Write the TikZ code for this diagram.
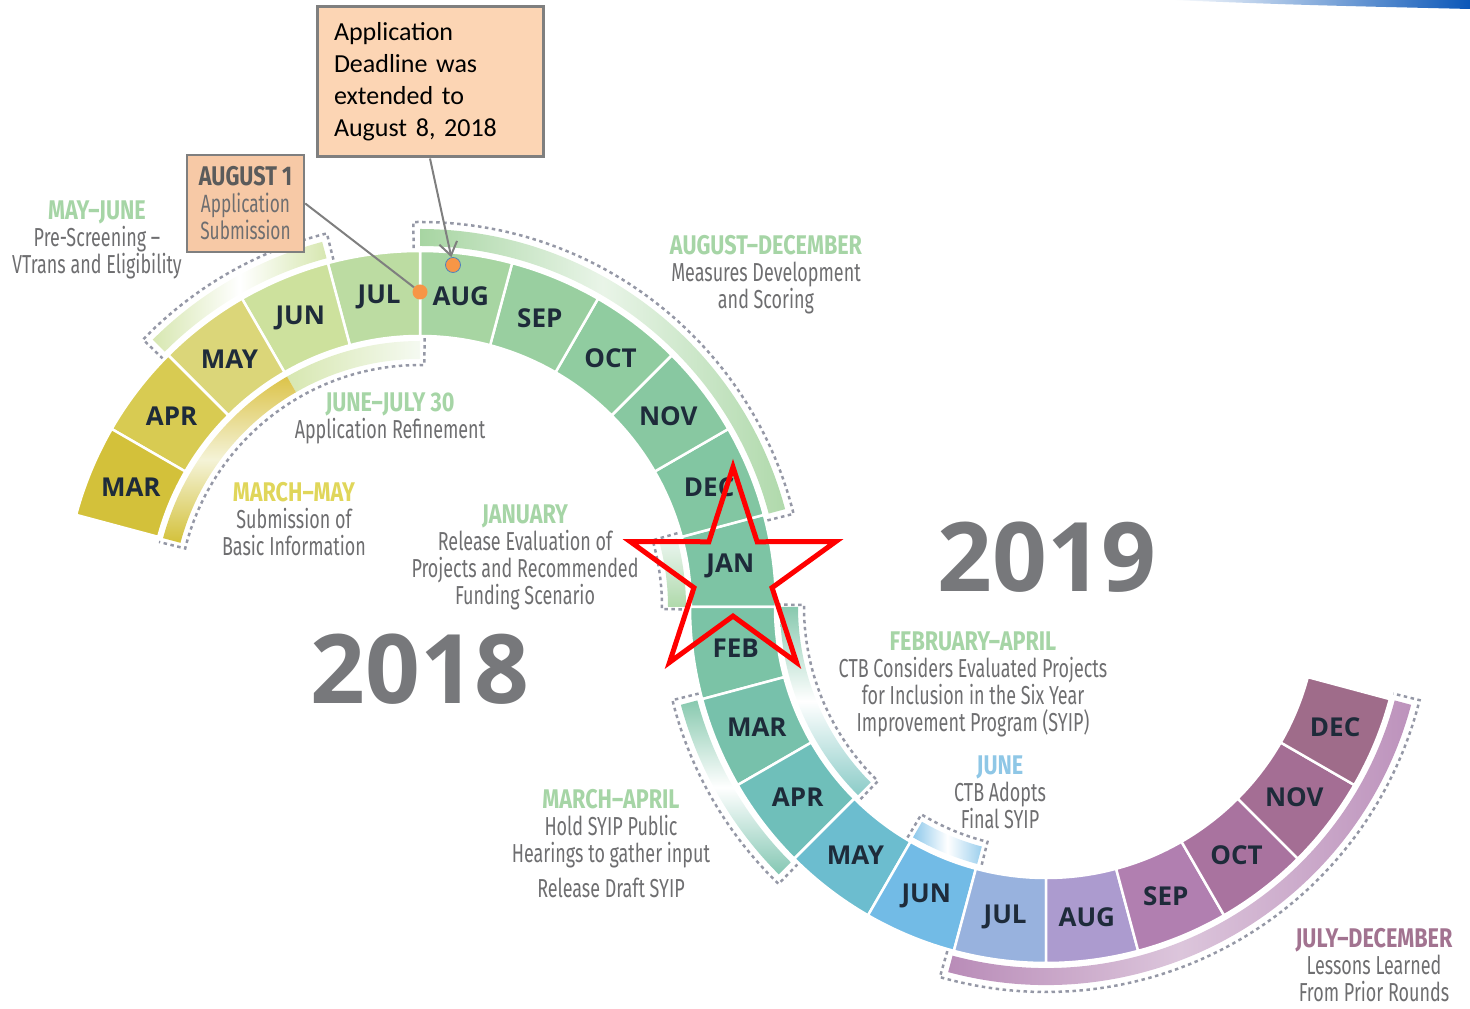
\documentclass[tikz,border=0pt]{standalone}
\usepackage{fontspec}
\usepackage{xcolor}
\usetikzlibrary{arrows.meta,shapes.geometric}

\setmainfont{Fira Sans}
\newfontfamily\condfont{Fira Sans}[FakeStretch=0.69]
\newfontfamily\headfont{Fira Sans}[FakeStretch=0.8]
\newfontfamily\monthfont{Open Sans}
\newfontfamily\boxfont{Carlito}
\newcommand{\headtext}{\headfont\bfseries\fontsize{27}{27}\selectfont}

\definecolor{monthtext}{HTML}{1E2B3A}
\definecolor{descgray}{HTML}{6E6E70}
\definecolor{yeargray}{HTML}{77787B}
\definecolor{dashgray}{HTML}{9598A6}
\definecolor{uMar}{HTML}{D3C13A}
\definecolor{uApr}{HTML}{D8CB52}
\definecolor{uMay}{HTML}{DBD679}
\definecolor{uJun}{HTML}{CDE19D}
\definecolor{uJul}{HTML}{BCDCA2}
\definecolor{uAug}{HTML}{A7D5A2}
\definecolor{uSep}{HTML}{99CFA0}
\definecolor{uOct}{HTML}{90CCA0}
\definecolor{uNov}{HTML}{88C8A1}
\definecolor{uDec}{HTML}{82C6A2}
\definecolor{uJan}{HTML}{7DC4A4}
\definecolor{lFeb}{HTML}{7BC3A6}
\definecolor{lMar}{HTML}{77C1AB}
\definecolor{lApr}{HTML}{6FBFBA}
\definecolor{lMay}{HTML}{6CBDCF}
\definecolor{lJun}{HTML}{72BBE6}
\definecolor{lJul}{HTML}{98B2DE}
\definecolor{lAug}{HTML}{AC9BCF}
\definecolor{lSep}{HTML}{B17FB0}
\definecolor{lOct}{HTML}{A9739F}
\definecolor{lNov}{HTML}{A46E94}
\definecolor{lDec}{HTML}{9F6C8A}
\definecolor{hGreen}{HTML}{A6D5A6}
\definecolor{hYellow}{HTML}{E0D65A}
\definecolor{hBlue}{HTML}{8FC7E6}
\definecolor{hMauve}{HTML}{A27390}
\definecolor{peach}{HTML}{FCD5B4}
\definecolor{peachdark}{HTML}{F7C9A6}
\definecolor{boxgray}{HTML}{7F7F7F}
\definecolor{augtext}{HTML}{5B5B5B}
\definecolor{dotorange}{HTML}{F79646}
\definecolor{dotblue}{HTML}{4F81BD}
\definecolor{swoosh}{HTML}{0B57B8}

\begin{document}
\begin{tikzpicture}[x=1pt, y=1pt,
	month/.style={font=\monthfont\bfseries\fontsize{26}{26}\selectfont, text=monthtext},
	phase/.style={font=\condfont\fontsize{26}{27}\selectfont, text=descgray, align=center, inner sep=0pt},
	band/.style={draw=dashgray, line width=2.5pt, dash pattern=on 3.5pt off 3.5pt},
	segment/.style={draw=white, line width=2.5pt},
	year/.style={font=\monthfont\bfseries\fontsize{96}{96}\selectfont, text=yeargray}]
	\useasboundingbox (0,0) rectangle (1470,1009);

	\shade[left color=white, right color=swoosh] (1170,1009) .. controls (1300,1004) .. (1470,1000) -- (1470,1009) -- cycle;

	\begin{scope}[shift={(420,402)}]
		\shade[left color=uJun!80, right color=uJun!80, middle color=white] (105:361) arc[start angle=105, end angle=135, radius=361] -- (135:378) arc[start angle=135, end angle=105, radius=378] -- cycle;
		\draw[band] (104:358) -- (104:385) arc[start angle=104, end angle=136, radius=385] -- (136:358);
		\shade[left color=uAug, right color=uAug!90, middle color=uAug!25] (15:361) arc[start angle=15, end angle=90, radius=361] -- (90:378) arc[start angle=90, end angle=15, radius=378] -- cycle;
		\draw[band] (14:358) -- (14:385) arc[start angle=14, end angle=91, radius=385] -- (91:358);
		\shade[left color=uJun!80, right color=uJul!15] (90:248) arc[start angle=90, end angle=120, radius=248] -- (120:266) arc[start angle=120, end angle=90, radius=266] -- cycle;
		\shade[bottom color=uMar, top color=uApr!90!orange, middle color=uMay!30] (120:248) arc[start angle=120, end angle=165, radius=248] -- (165:266) arc[start angle=165, end angle=120, radius=266] -- cycle;
		\draw[band] (89:269) -- (89:242) arc[start angle=89, end angle=166, radius=242] -- (166:269);
		\shade[bottom color=uAug!90, top color=uJan!15] (0:248) arc[start angle=0, end angle=15, radius=248] -- (15:266) arc[start angle=15, end angle=0, radius=266] -- cycle;
		\draw[band] (-0.5:269) -- (-0.5:242) arc[start angle=-0.5, end angle=16, radius=242] -- (16:269);

		\foreach \m/\col [count=\k from 0] in {JAN/uJan, DEC/uDec, NOV/uNov, OCT/uOct, SEP/uSep, AUG/uAug, JUL/uJul, JUN/uJun, MAY/uMay, APR/uApr, MAR/uMar} {
			\pgfmathsetmacro{\a}{15*\k}
			\pgfmathsetmacro{\b}{15*\k+15}
			\pgfmathsetmacro{\h}{15*\k+7.5}
			\filldraw[segment, fill=\col] (\a:271) arc[start angle=\a, end angle=\b, radius=271] -- (\b:356) arc[start angle=\b, end angle=\a, radius=356] -- cycle;
			\node[month] (u\m) at (\h:313) {\m};
		}
	\end{scope}

	\begin{scope}[shift={(1046,402)}]
		\shade[top color=lFeb!90, bottom color=lApr!80, middle color=white] (180:248) arc[start angle=180, end angle=225, radius=248] -- (225:266) arc[start angle=225, end angle=180, radius=266] -- cycle;
		\draw[band] (179.5:269) -- (179.5:242) arc[start angle=179.5, end angle=226, radius=242] -- (226:269);
		\shade[left color=lJun!80, right color=lJun!70, middle color=white] (240:248) arc[start angle=240, end angle=255, radius=248] -- (255:266) arc[start angle=255, end angle=240, radius=266] -- cycle;
		\draw[band] (239:269) -- (239:242) arc[start angle=239, end angle=256, radius=242] -- (256:269);
		\shade[top color=lFeb!90, bottom color=lMar!90, middle color=white] (195:361) arc[start angle=195, end angle=225, radius=361] -- (225:378) arc[start angle=225, end angle=195, radius=378] -- cycle;
		\draw[band] (194:358) -- (194:385) arc[start angle=194, end angle=226, radius=385] -- (226:358);
		\shade[left color=lSep!90, right color=lSep!85, middle color=lSep!45] (255:361) arc[start angle=255, end angle=345, radius=361] -- (345:378) arc[start angle=345, end angle=255, radius=378] -- cycle;
		\draw[band] (254:358) -- (254:385) arc[start angle=254, end angle=346, radius=385] -- (346:358);

		\foreach \m/\col [count=\k from 0] in {FEB/lFeb, MAR/lMar, APR/lApr, MAY/lMay, JUN/lJun, JUL/lJul, AUG/lAug, SEP/lSep, OCT/lOct, NOV/lNov, DEC/lDec} {
			\pgfmathsetmacro{\a}{180+15*\k}
			\pgfmathsetmacro{\b}{195+15*\k}
			\pgfmathsetmacro{\h}{187.5+15*\k}
			\filldraw[segment, fill=\col] (\a:271) arc[start angle=\a, end angle=\b, radius=271] -- (\b:356) arc[start angle=\b, end angle=\a, radius=356] -- cycle;
			\node[month] (l\m) at (\h:313) {\m};
		}
	\end{scope}

	\node[phase] (mayjune) at (97,769) {\textcolor{hGreen}{\headtext MAY–JUNE}\\Pre-Screening –\\VTrans and Eligibility};
	\node[phase] (augdec) at (766,734) {\textcolor{hGreen}{\headtext AUGUST–DECEMBER}\\Measures Development\\and Scoring};
	\node[phase] (junjul) at (390,591) {\textcolor{hGreen}{\headtext JUNE–JULY 30}\\Application Refinement};
	\node[phase] (marmay) at (294,490) {\textcolor{hYellow}{\headtext MARCH–MAY}\\Submission of\\Basic Information};
	\node[phase] (january) at (525,452) {\textcolor{hGreen}{\headtext JANUARY}\\Release Evaluation of\\Projects and Recommended\\Funding Scenario};
	\node[phase] (febapr) at (973,325) {\textcolor{hGreen}{\headtext FEBRUARY–APRIL}\\CTB Considers Evaluated Projects\\for Inclusion in the Six Year\\Improvement Program (SYIP)};
	\node[phase] (june) at (1000,217) {\textcolor{hBlue}{\headtext JUNE}\\CTB Adopts\\Final SYIP};
	\node[phase] (marapr) at (611,165) {\textcolor{hGreen}{\headtext MARCH–APRIL}\\Hold SYIP Public\\Hearings to gather input\\[8pt]Release Draft SYIP};
	\node[phase] (juldec) at (1374,44) {\textcolor{hMauve}{\headtext JULY–DECEMBER}\\Lessons Learned\\From Prior Rounds};

	\node[year] (y2018) at (420,340) {2018};
	\node[year] (y2019) at (1047,452) {2019};

	\node[draw=boxgray, line width=2.5pt, fill=peachdark, minimum width=117, minimum height=97, inner sep=0pt, align=center, font=\condfont\fontsize{25}{27}\selectfont, text=descgray] (aug1) at (245.5,805.5) {\textcolor{augtext}{\headtext AUGUST 1}\\Application\\Submission};
	\node[draw=boxgray, line width=3pt, fill=peach, minimum width=226, minimum height=150, text width=192, inner xsep=17pt, align=left, font=\boxfont\fontsize{26}{32}\selectfont] (deadline) at (430,927) {Application\\Deadline was\\extended to\\August 8, 2018};

	\node[circle, fill=dotorange, inner sep=0pt, minimum size=15] (juldot) at (420,717) {};
	\node[circle, fill=dotorange, draw=dotblue, line width=0.8pt, inner sep=0pt, minimum size=15] (augdot) at (453,744) {};

	\path[draw=boxgray, line width=2pt]
		(aug1.east) edge (juldot)
		(deadline.south) edge[-{Straight Barb[length=13pt, width=18pt]}] (augdot)
	;

	\node[star, star points=5, star point ratio=2.63, minimum size=216, draw=red, line width=5pt, inner sep=0pt] (mark) at (733,434) {};
\end{tikzpicture}
\end{document}
